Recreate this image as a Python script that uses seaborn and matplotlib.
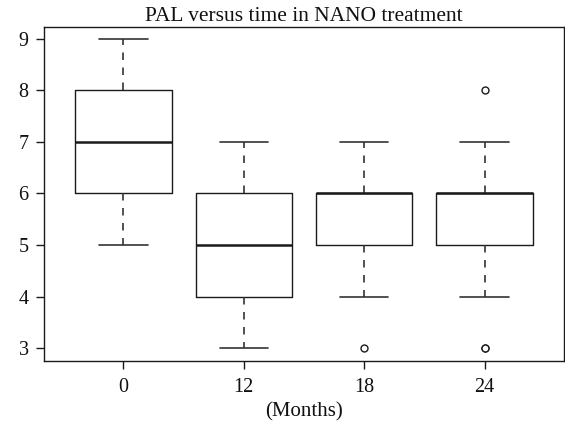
import matplotlib
matplotlib.use("Agg")
import matplotlib.pyplot as plt
import seaborn as sns
import pandas as pd

# PAL scores recorded at each follow-up visit (months)
months = ["0", "12", "18", "24"]
pal_0 = [5, 6, 6, 6, 7, 7, 7, 8, 8, 8, 9]
pal_12 = [3, 4, 4, 4, 5, 5, 5, 6, 6, 6, 7]
pal_18 = [3, 4, 5, 5, 5, 6, 6, 6, 6, 6, 6, 6, 7]
pal_24 = [3, 3, 4, 5, 5, 5, 6, 6, 6, 6, 6, 6, 7, 8]
y_ticks = [3, 4, 5, 6, 7, 8, 9]

groups = [pal_0, pal_12, pal_18, pal_24]
df = pd.DataFrame({
    "month": [m for m, g in zip(months, groups) for _ in g],
    "pal": [v for g in groups for v in g],
})

sns.set_style("ticks")
plt.rcParams["font.family"] = ["Liberation Serif", "DejaVu Serif"]

W, H = 565, 433
fig = plt.figure(figsize=(W / 100, H / 100), dpi=100)
ax = fig.add_axes([44 / W, (H - 361) / H, 520 / W, (361 - 27) / H])

line_c = "#1a1a1a"
sns.boxplot(
    data=df, x="month", y="pal", order=months, ax=ax,
    fill=False, color=line_c, width=0.8, linewidth=1.0, whis=1.5,
    boxprops=dict(color=line_c, linewidth=1.0),
    whiskerprops=dict(color="#333333", linewidth=1.2, linestyle=(0, (4.5, 4.5))),
    capprops=dict(color="#333333", linewidth=1.2),
    medianprops=dict(color=line_c, linewidth=1.8),
    flierprops=dict(marker="o", markersize=5, markerfacecolor="white",
                    markeredgecolor=line_c, markeredgewidth=1.0),
)

ax.set_xlim(-0.66, 3.66)
ax.set_ylim(2.75, 9.23)
ax.set_yticks(y_ticks)
ax.set_xticks(range(len(months)))
ax.set_xticklabels(months)

for side in ["left", "right", "top", "bottom"]:
    ax.spines[side].set_visible(True)
    ax.spines[side].set_color(line_c)
    ax.spines[side].set_linewidth(1.0)

ax.tick_params(axis="both", direction="out", length=6, width=1.0,
               color=line_c, labelsize=14.5, labelcolor="#111111")
ax.tick_params(axis="y", pad=5)
ax.tick_params(axis="x", pad=6)

ax.set_xlabel("(Months)", fontsize=15, color="#111111", labelpad=4)
ax.set_ylabel("")
ax.set_title("PAL versus time in NANO treatment", fontsize=15.5,
             color="#111111", pad=4)

fig.savefig("out.png", dpi=100)
